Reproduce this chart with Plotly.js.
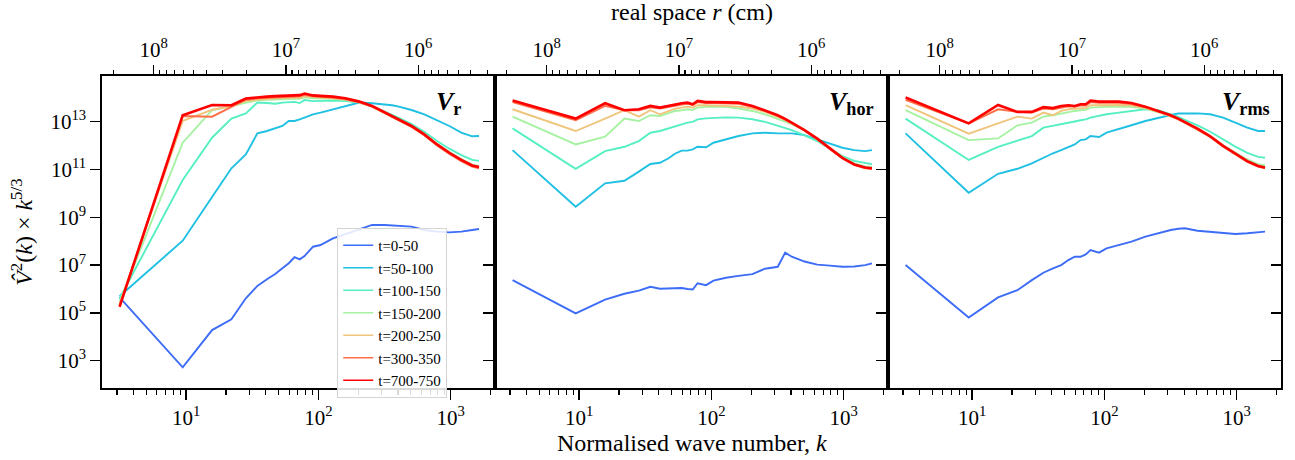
<!DOCTYPE html>
<html>
<head>
<meta charset="utf-8">
<script src="https://cdn.plot.ly/plotly-3.0.1.min.js"></script>
<style>
html,body{margin:0;padding:0;background:#ffffff;}
#chart{width:1295px;height:460px;}
</style>
</head>
<body>
<div id="chart"></div>
<script>
// Normalised wave number k (shared sampling of all curves)
const kValues = [3.14, 9.42, 15.71, 21.99, 28.27, 34.56, 40.84, 47.12, 53.41, 59.69, 65.97, 72.26, 78.54, 91.1, 103.7, 128.8, 160.2, 204.2, 254.5, 317.3, 361.3, 405.3, 505.8, 631.4, 788.5, 977.0, 1203, 1454, 1637];

const seriesLabels = ['t=0-50', 't=50-100', 't=100-150', 't=150-200', 't=200-250', 't=300-350', 't=700-750'];
const seriesColors = ['#3d6cf6', '#1fc0e2', '#55efc2', '#a6f2a2', '#efc57e', '#ff6f47', '#ff0000'];

// Values are log10 of V^2(k) * k^(5/3), read off the reference
// Panel V_r
const vr_t0_50    = [5.65, 2.72, 4.28, 4.73, 5.61, 6.13, 6.41, 6.63, 6.87, 7.08, 7.33, 7.24, 7.38, 7.77, 7.84, 8.12, 8.30, 8.50, 8.68, 8.68, 8.66, 8.63, 8.61, 8.47, 8.40, 8.37, 8.40, 8.47, 8.51];
const vr_t50_100  = [5.70, 8.02, 9.85, 11.05, 11.63, 12.51, 12.61, 12.71, 12.82, 13.03, 13.03, 13.10, 13.17, 13.31, 13.38, 13.52, 13.66, 13.80, 13.77, 13.73, 13.69, 13.63, 13.49, 13.31, 13.07, 12.82, 12.54, 12.39, 12.40];
const vr_t100_150 = [5.60, 10.56, 12.33, 13.13, 13.35, 13.80, 13.78, 13.75, 13.80, 13.82, 13.83, 13.78, 13.91, 13.86, 13.87, 13.88, 13.86, 13.80, 13.65, 13.42, 13.29, 13.16, 12.90, 12.58, 12.19, 11.87, 11.60, 11.40, 11.36];
const vr_t150_200 = [5.45, 12.12, 13.48, 13.66, 13.82, 13.90, 13.92, 13.94, 13.95, 13.96, 13.96, 13.96, 14.02, 13.98, 13.98, 13.96, 13.91, 13.81, 13.63, 13.38, 13.24, 13.10, 12.82, 12.48, 12.07, 11.73, 11.43, 11.20, 11.15];
const vr_t200_250 = [5.35, 13.03, 13.50, 13.65, 13.87, 13.93, 13.95, 13.98, 13.98, 14.00, 14.00, 14.00, 14.06, 14.02, 14.01, 13.98, 13.93, 13.81, 13.63, 13.37, 13.22, 13.08, 12.80, 12.45, 12.03, 11.68, 11.38, 11.15, 11.08];
const vr_t300_350 = [5.30, 13.24, 13.21, 13.62, 13.92, 13.98, 14.00, 14.02, 14.03, 14.05, 14.05, 14.06, 14.12, 14.06, 14.04, 14.01, 13.94, 13.81, 13.63, 13.36, 13.21, 13.07, 12.78, 12.43, 12.00, 11.65, 11.35, 11.12, 11.05];
const vr_t700_750 = [5.25, 13.27, 13.70, 13.69, 13.97, 14.03, 14.05, 14.07, 14.08, 14.10, 14.09, 14.11, 14.18, 14.10, 14.08, 14.05, 13.98, 13.84, 13.66, 13.38, 13.24, 13.10, 12.82, 12.47, 12.05, 11.70, 11.40, 11.17, 11.10];

// Panel V_hor
const vh_t0_50    = [6.37, 4.98, 5.56, 5.80, 5.93, 6.09, 6.01, 6.02, 6.03, 6.04, 6.00, 5.98, 6.24, 6.16, 6.35, 6.47, 6.55, 6.62, 6.85, 6.93, 7.52, 7.35, 7.15, 7.02, 6.98, 6.93, 6.94, 7.00, 7.07];
const vh_t50_100  = [11.81, 9.44, 10.42, 10.53, 10.91, 11.23, 11.28, 11.46, 11.67, 11.79, 11.79, 11.84, 11.95, 11.93, 12.12, 12.26, 12.40, 12.51, 12.54, 12.51, 12.51, 12.51, 12.44, 12.26, 12.09, 11.91, 11.81, 11.77, 11.81];
const vh_t100_150 = [12.72, 11.03, 11.77, 11.95, 12.19, 12.54, 12.61, 12.71, 12.82, 12.89, 12.96, 12.99, 13.10, 13.14, 13.16, 13.18, 13.17, 13.10, 12.99, 12.82, 12.74, 12.65, 12.43, 12.19, 11.87, 11.56, 11.36, 11.26, 11.22];
const vh_t150_200 = [13.21, 12.05, 12.37, 13.13, 13.03, 13.27, 13.24, 13.35, 13.45, 13.48, 13.52, 13.49, 13.59, 13.62, 13.63, 13.62, 13.55, 13.45, 13.31, 13.13, 13.02, 12.90, 12.62, 12.28, 11.89, 11.52, 11.26, 11.13, 11.10];
const vh_t200_250 = [13.52, 12.61, 13.13, 13.48, 13.21, 13.48, 13.31, 13.45, 13.55, 13.59, 13.63, 13.59, 13.69, 13.69, 13.69, 13.66, 13.63, 13.55, 13.41, 13.21, 13.08, 12.94, 12.63, 12.27, 11.86, 11.48, 11.20, 11.07, 11.04];
const vh_t300_350 = [13.82, 13.06, 13.66, 13.48, 13.48, 13.60, 13.55, 13.62, 13.68, 13.72, 13.75, 13.70, 13.82, 13.78, 13.78, 13.76, 13.75, 13.62, 13.45, 13.24, 13.09, 12.94, 12.63, 12.27, 11.85, 11.47, 11.19, 11.05, 11.02];
const vh_t700_750 = [13.89, 13.13, 13.77, 13.48, 13.52, 13.66, 13.59, 13.66, 13.73, 13.77, 13.80, 13.73, 13.87, 13.82, 13.82, 13.80, 13.80, 13.66, 13.48, 13.27, 13.12, 12.96, 12.65, 12.29, 11.87, 11.49, 11.21, 11.08, 11.05];

// Panel V_rms
const vm_t0_50    = [7.00, 4.81, 5.65, 5.95, 6.37, 6.68, 6.86, 7.00, 7.21, 7.35, 7.35, 7.45, 7.63, 7.52, 7.70, 7.84, 7.98, 8.19, 8.33, 8.47, 8.52, 8.54, 8.44, 8.40, 8.33, 8.30, 8.33, 8.38, 8.40];
const vm_t50_100  = [12.51, 10.03, 10.82, 11.03, 11.26, 11.49, 11.68, 11.81, 11.95, 12.05, 12.23, 12.26, 12.40, 12.36, 12.54, 12.68, 12.85, 13.03, 13.17, 13.28, 13.34, 13.34, 13.35, 13.31, 13.17, 12.96, 12.75, 12.61, 12.61];
const vm_t100_150 = [13.13, 11.40, 11.95, 12.19, 12.40, 12.75, 12.82, 12.89, 12.96, 13.01, 13.06, 13.10, 13.17, 13.24, 13.31, 13.38, 13.45, 13.52, 13.48, 13.31, 13.20, 13.08, 12.85, 12.58, 12.26, 11.96, 11.70, 11.53, 11.49];
const vm_t150_200 = [13.48, 12.23, 12.30, 12.85, 12.96, 13.21, 13.27, 13.35, 13.41, 13.45, 13.48, 13.50, 13.59, 13.62, 13.62, 13.62, 13.62, 13.55, 13.41, 13.24, 13.12, 12.99, 12.71, 12.40, 12.02, 11.71, 11.42, 11.22, 11.18];
const vm_t200_250 = [13.69, 12.50, 12.93, 13.21, 13.13, 13.38, 13.27, 13.45, 13.52, 13.55, 13.58, 13.58, 13.69, 13.70, 13.70, 13.70, 13.68, 13.57, 13.41, 13.23, 13.10, 12.96, 12.67, 12.36, 11.97, 11.64, 11.34, 11.14, 11.07];
const vm_t300_350 = [13.91, 12.93, 13.52, 13.41, 13.38, 13.55, 13.52, 13.60, 13.64, 13.62, 13.68, 13.68, 13.82, 13.79, 13.79, 13.79, 13.74, 13.60, 13.43, 13.25, 13.11, 12.97, 12.68, 12.36, 11.96, 11.63, 11.32, 11.12, 11.05];
const vm_t700_750 = [14.01, 12.93, 13.70, 13.41, 13.41, 13.61, 13.57, 13.66, 13.69, 13.66, 13.73, 13.73, 13.88, 13.84, 13.84, 13.84, 13.78, 13.63, 13.45, 13.27, 13.13, 12.99, 12.71, 12.39, 11.99, 11.67, 11.35, 11.15, 11.08];

const panelSeries = [
  [vr_t0_50, vr_t50_100, vr_t100_150, vr_t150_200, vr_t200_250, vr_t300_350, vr_t700_750],
  [vh_t0_50, vh_t50_100, vh_t100_150, vh_t150_200, vh_t200_250, vh_t300_350, vh_t700_750],
  [vm_t0_50, vm_t50_100, vm_t100_150, vm_t150_200, vm_t200_250, vm_t300_350, vm_t700_750]
];
const panelLabels = ['<b><i>V</i></b><sub><b>r</b></sub>', '<b><i>V</i></b><sub><b>hor</b></sub>', '<b><i>V</i></b><sub><b>rms</b></sub>'];

// Tick values and labels
const kTickVals = [10, 100, 1000];
const kTickText = ['10<sup>1</sup>', '10<sup>2</sup>', '10<sup>3</sup>'];
const kMinorVals = [3,4,5,6,7,8,9,20,30,40,50,60,70,80,90,200,300,400,500,600,700,800,900,2000];
const yTickVals = [1e3, 1e5, 1e7, 1e9, 1e11, 1e13];
const yTickText = ['10<sup>3</sup>', '10<sup>5</sup>', '10<sup>7</sup>', '10<sup>9</sup>', '10<sup>11</sup>', '10<sup>13</sup>'];
const rTickVals = [1e8, 1e7, 1e6];
const rTickText = ['10<sup>8</sup>', '10<sup>7</sup>', '10<sup>6</sup>'];
const rMinorVals = [2e8, 9e7,8e7,7e7,6e7,5e7,4e7,3e7,2e7, 9e6,8e6,7e6,6e6,5e6,4e6,3e6,2e6, 9e5,8e5,7e5,6e5,5e5,4e5,3e5];
// r (cm) = rScale / k
const rScaleLog10 = 8.755;

const FONT = 'Liberation Serif, "DejaVu Serif", serif';
const kRangeLog = [0.364, 3.335];
const yRangeLog = [1.858, 14.912];

const xIds = ['x', 'x2', 'x3'];
const yIds = ['y', 'y2', 'y3'];

const traces = [];
panelSeries.forEach((seriesList, p) => {
  seriesList.forEach((logVals, i) => {
    traces.push({
      x: kValues,
      y: logVals.map(v => Math.pow(10, v)),
      xaxis: xIds[p], yaxis: yIds[p],
      type: 'scatter', mode: 'lines',
      name: seriesLabels[i],
      showlegend: false,
      line: {color: seriesColors[i], width: i === 6 ? 2.6 : 1.9},
      hoverinfo: 'skip'
    });
  });
});
// legend entries (thin sample lines, as in the reference legend)
seriesLabels.forEach((lab, i) => {
  traces.push({x: [null], y: [null], xaxis: 'x', yaxis: 'y', type: 'scatter', mode: 'lines',
    name: lab, showlegend: true, line: {color: seriesColors[i], width: 1.4}, hoverinfo: 'skip'});
});
// empty traces so that the secondary (top r and right-hand) axes get drawn
[['x4', 'y'], ['x5', 'y2'], ['x6', 'y3'], ['x', 'y4'], ['x2', 'y5'], ['x3', 'y6']].forEach(pair => {
  traces.push({x: [null], y: [null], xaxis: pair[0], yaxis: pair[1], type: 'scatter', mode: 'lines',
    showlegend: false, hoverinfo: 'skip'});
});

const tickFont = {family: FONT, size: 21, color: '#000'};

function bottomAxis(domain, anchor) {
  return {
    domain: domain, anchor: anchor, type: 'log', range: kRangeLog, autorange: false,
    tickmode: 'array', tickvals: kTickVals, ticktext: kTickText,
    ticks: 'outside', ticklen: 10, tickwidth: 1.3, tickcolor: '#000',
    minor: {tickmode: 'array', tickvals: kMinorVals, ticks: 'outside', ticklen: 5, tickwidth: 1.1, tickcolor: '#000', showgrid: false},
    showline: true, linecolor: '#000', linewidth: 1.6, mirror: true,
    showgrid: false, zeroline: false, tickfont: tickFont
  };
}
function topAxis(overlay, anchor) {
  return {
    overlaying: overlay, anchor: anchor, side: 'top', type: 'log', autorange: false,
    range: [rScaleLog10 - kRangeLog[0], rScaleLog10 - kRangeLog[1]],
    tickmode: 'array', tickvals: rTickVals, ticktext: rTickText,
    ticks: 'outside', ticklen: 10, tickwidth: 1.3, tickcolor: '#000',
    minor: {tickmode: 'array', tickvals: rMinorVals, ticks: 'outside', ticklen: 5, tickwidth: 1.1, tickcolor: '#000', showgrid: false},
    showline: false, showgrid: false, zeroline: false, tickfont: tickFont
  };
}
function leftAxis(anchor, labels) {
  return {
    domain: [0, 1], anchor: anchor, type: 'log', range: yRangeLog, autorange: false,
    tickmode: 'array', tickvals: yTickVals, ticktext: yTickText,
    ticks: 'outside', ticklen: 10, tickwidth: 1.3, tickcolor: '#000',
    showticklabels: labels,
    showline: true, linecolor: '#000', linewidth: 1.6, mirror: true,
    showgrid: false, zeroline: false, tickfont: tickFont
  };
}
function rightAxis(overlay, anchor) {
  return {
    overlaying: overlay, anchor: anchor, side: 'right', type: 'log', range: yRangeLog, autorange: false,
    tickmode: 'array', tickvals: yTickVals, ticktext: yTickText,
    ticks: 'inside', ticklen: 10, tickwidth: 1.3, tickcolor: '#000',
    showticklabels: false, showline: false, showgrid: false, zeroline: false
  };
}

const annotations = [
  {text: panelLabels[0], xref: 'paper', yref: 'paper', x: 0.3065, y: 0.97, xanchor: 'right', yanchor: 'top', showarrow: false, font: {family: FONT, size: 26, color: '#000'}},
  {text: panelLabels[1], xref: 'paper', yref: 'paper', x: 0.6565, y: 0.97, xanchor: 'right', yanchor: 'top', showarrow: false, font: {family: FONT, size: 26, color: '#000'}},
  {text: panelLabels[2], xref: 'paper', yref: 'paper', x: 0.9925, y: 0.97, xanchor: 'right', yanchor: 'top', showarrow: false, font: {family: FONT, size: 26, color: '#000'}},
  {text: 'Normalised wave number, <i>k</i>', xref: 'paper', yref: 'paper', x: 0.5, y: -0.176, xanchor: 'center', yanchor: 'middle', showarrow: false, font: {family: FONT, size: 24, color: '#000'}},
  {text: 'real space <i>r</i> (cm)', xref: 'paper', yref: 'paper', x: 0.5, y: 1.205, xanchor: 'center', yanchor: 'middle', showarrow: false, font: {family: FONT, size: 24, color: '#000'}},
  {text: '<i>V\u0302</i><sup>2</sup>(<i>k</i>) \u00d7 <i>k</i><sup>5/3</sup>', xref: 'paper', yref: 'paper', x: -0.068, y: 0.5, xanchor: 'center', yanchor: 'middle', textangle: -90, showarrow: false, font: {family: FONT, size: 24, color: '#000'}}
];

const layout = {
  width: 1295, height: 460,
  margin: {l: 102, r: 14, t: 76, b: 72, pad: 0},
  paper_bgcolor: '#fff', plot_bgcolor: 'rgba(0,0,0,0)',
  font: {family: FONT, color: '#000'},
  showlegend: true,
  legend: {x: 0.1995, y: 0.513, xanchor: 'left', yanchor: 'top', bgcolor: 'rgba(255,255,255,0.85)', bordercolor: '#d4d4d4', borderwidth: 1, font: {family: FONT, size: 15, color: '#000'}, tracegroupgap: 0},
  xaxis: bottomAxis([0, 1/3], 'y'),
  xaxis2: bottomAxis([1/3, 2/3], 'y2'),
  xaxis3: bottomAxis([2/3, 1], 'y3'),
  yaxis: leftAxis('x', true),
  yaxis2: leftAxis('x2', false),
  yaxis3: leftAxis('x3', false),
  xaxis4: topAxis('x', 'y'),
  xaxis5: topAxis('x2', 'y2'),
  xaxis6: topAxis('x3', 'y3'),
  yaxis4: rightAxis('y', 'x'),
  yaxis5: rightAxis('y2', 'x2'),
  yaxis6: rightAxis('y3', 'x3'),
  annotations: annotations
};

Plotly.newPlot('chart', traces, layout, {displayModeBar: false, staticPlot: true});
</script>
</body>
</html>
